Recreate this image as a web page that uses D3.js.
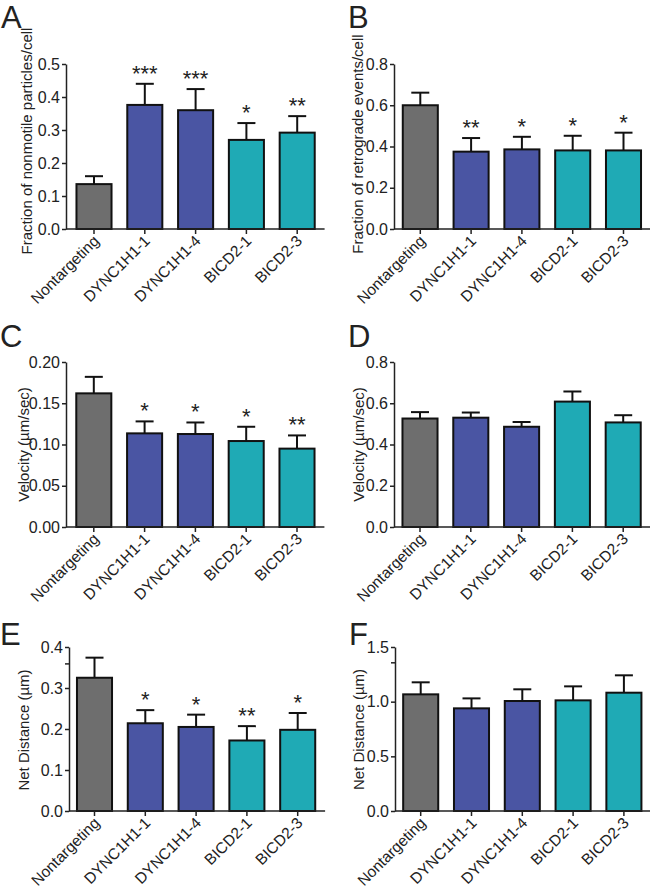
<!DOCTYPE html>
<html>
<head>
<meta charset="utf-8">
<script src="https://cdn.jsdelivr.net/npm/d3@7"></script>
<style>
  html, body { margin: 0; padding: 0; background: #fff; }
  svg { display: block; font-family: "Liberation Sans", Arial, Helvetica, sans-serif; }
</style>
</head>
<body>
<svg id="chart" width="650" height="888"></svg>
<script>
// ---------- data ----------
const categories = ["Nontargeting", "DYNC1H1-1", "DYNC1H1-4", "BICD2-1", "BICD2-3"];
const groups = ["control", "dynein", "dynein", "bicd2", "bicd2"];

const nonmotileMean = [0.136, 0.376, 0.360, 0.270, 0.292];
const nonmotileErr  = [0.024, 0.064, 0.064, 0.051, 0.050];
const nonmotileStars = ["", "***", "***", "*", "**"];
const nonmotileTicks = [0, 0.1, 0.2, 0.3, 0.4, 0.5];

const retroMean = [0.600, 0.375, 0.386, 0.381, 0.381];
const retroErr  = [0.061, 0.066, 0.061, 0.071, 0.086];
const retroStars = ["", "**", "*", "*", "*"];
const retroTicks = [0, 0.2, 0.4, 0.6, 0.8];

const velCMean = [0.162, 0.1135, 0.1127, 0.1042, 0.095];
const velCErr  = [0.020, 0.0145, 0.014, 0.0173, 0.016];
const velCStars = ["", "*", "*", "*", "**"];
const velCTicks = [0, 0.05, 0.10, 0.15, 0.20];

const velDMean = [0.526, 0.530, 0.486, 0.608, 0.507];
const velDErr  = [0.031, 0.025, 0.023, 0.049, 0.035];
const velDStars = ["", "", "", "", ""];
const velDTicks = [0, 0.2, 0.4, 0.6, 0.8];

const distEMean = [0.325, 0.214, 0.205, 0.172, 0.198];
const distEErr  = [0.049, 0.032, 0.030, 0.035, 0.041];
const distEStars = ["", "*", "*", "**", "*"];
const distETicks = [0, 0.1, 0.2, 0.3, 0.4];
const distEMinor = [0.36];

const distFMean = [1.067, 0.939, 1.006, 1.012, 1.082];
const distFErr  = [0.110, 0.091, 0.107, 0.128, 0.159];
const distFStars = ["", "", "", "", ""];
const distFTicks = [0, 0.5, 1.0, 1.5];
const distFMinor = [1.36];

// ---------- style ----------
const fillColor = { control: "#6e6e6e", dynein: "#4a55a3", bicd2: "#1faab5" };

const panels = [
  { letter: "A", title: "Fraction of nonmotile particles/cell", mean: nonmotileMean, err: nonmotileErr, stars: nonmotileStars,
    ticks: nonmotileTicks, minor: [], fmt: ".1f", ax: 66, top: 64, bottom: 229, c0: 28, lx: 1, ly: 28, tx: 27, ty: 141 },
  { letter: "B", title: "Fraction of retrograde events/cell", mean: retroMean, err: retroErr, stars: retroStars,
    ticks: retroTicks, minor: [], fmt: ".1f", ax: 394, top: 64, bottom: 229, c0: 26.3, lx: 348, ly: 28, tx: 358, ty: 144 },
  { letter: "C", title: "Velocity (\u00B5m/sec)", mean: velCMean, err: velCErr, stars: velCStars,
    ticks: velCTicks, minor: [], fmt: ".2f", ax: 66, top: 362, bottom: 527, c0: 27.8, lx: 0, ly: 347, tx: 24, ty: 444.5 },
  { letter: "D", title: "Velocity (\u00B5m/sec)", mean: velDMean, err: velDErr, stars: velDStars,
    ticks: velDTicks, minor: [], fmt: ".1f", ax: 394, top: 362, bottom: 527, c0: 26, lx: 348, ly: 347, tx: 359, ty: 444.5 },
  { letter: "E", title: "Net Distance (\u00B5m)", mean: distEMean, err: distEErr, stars: distEStars,
    ticks: distETicks, minor: distEMinor, fmt: ".1f", ax: 69, top: 647, bottom: 811, c0: 25.5, lx: 0, ly: 645, tx: 24, ty: 730 },
  { letter: "F", title: "Net Distance (\u00B5m)", mean: distFMean, err: distFErr, stars: distFStars,
    ticks: distFTicks, minor: distFMinor, fmt: ".1f", ax: 395, top: 647, bottom: 811, c0: 25.7, lx: 349, ly: 645, tx: 359, ty: 729.5 }
];

const step = 50.8;
const svg = d3.select("#chart");

panels.forEach(p => {
  const g = svg.append("g");
  const r0 = p.ax + p.c0 - step / 2;
  const x = d3.scaleBand().domain(categories).range([r0, r0 + 5 * step])
    .paddingInner(0.31).paddingOuter(0.155);
  const ymax = p.ticks[p.ticks.length - 1];
  const y = d3.scaleLinear().domain([0, ymax]).range([p.bottom, p.top]);

  const rows = categories.map((c, i) => ({ c, g: groups[i], m: p.mean[i], e: p.err[i], s: p.stars[i] }));

  // error bars (upper only)
  const eb = g.append("g").attr("stroke", "#111").attr("stroke-width", 2).attr("fill", "none");
  rows.forEach(d => {
    const cx = x(d.c) + x.bandwidth() / 2;
    eb.append("line").attr("x1", cx).attr("x2", cx).attr("y1", y(d.m)).attr("y2", y(d.m + d.e));
    eb.append("line").attr("x1", cx - 9).attr("x2", cx + 9).attr("y1", y(d.m + d.e)).attr("y2", y(d.m + d.e));
  });

  // bars
  g.append("g").selectAll("rect").data(rows).join("rect")
    .attr("x", d => x(d.c))
    .attr("y", d => y(d.m))
    .attr("width", x.bandwidth())
    .attr("height", d => y(0) - y(d.m))
    .attr("fill", d => fillColor[d.g])
    .attr("stroke", "#111")
    .attr("stroke-width", 2);

  // stars
  g.append("g").selectAll("text").data(rows.filter(d => d.s)).join("text")
    .attr("x", d => x(d.c) + x.bandwidth() / 2)
    .attr("y", d => y(d.m + d.e) - 3)
    .attr("text-anchor", "middle")
    .attr("font-size", 22)
    .attr("fill", "#222")
    .text(d => d.s);

  // y axis
  const yAxis = d3.axisLeft(y).tickValues(p.ticks).tickFormat(d3.format(p.fmt))
    .tickSize(4).tickPadding(2).tickSizeOuter(0);
  const ya = g.append("g").attr("transform", `translate(${p.ax},0)`).call(yAxis);
  ya.attr("font-size", null).attr("font-family", null);
  ya.select(".domain").attr("stroke", "#222").attr("stroke-width", 1.5);
  ya.selectAll(".tick line").attr("stroke", "#222").attr("stroke-width", 1.5);
  ya.selectAll(".tick text").style("font-size", "16px").attr("fill", "#222");
  if (p.minor.length) {
    const ma = d3.axisLeft(y).tickValues(p.minor).tickFormat("").tickSize(4).tickSizeOuter(0);
    const mg = g.append("g").attr("transform", `translate(${p.ax},0)`).call(ma);
    mg.select(".domain").remove();
    mg.selectAll(".tick line").attr("stroke", "#222").attr("stroke-width", 1.5);
  }

  // x axis
  g.append("line").attr("x1", p.ax).attr("x2", r0 + 5 * step + 2)
    .attr("y1", p.bottom).attr("y2", p.bottom).attr("stroke", "#222").attr("stroke-width", 1.5);
  const xAxis = d3.axisBottom(x).tickSize(5).tickSizeOuter(0).tickFormat("");
  const xa = g.append("g").attr("transform", `translate(0,${p.bottom})`).call(xAxis);
  xa.select(".domain").remove();
  xa.selectAll(".tick line").attr("stroke", "#222").attr("stroke-width", 1.5);

  g.append("g").selectAll("text").data(categories).join("text")
    .attr("transform", c => `translate(${x(c) + x.bandwidth() / 2 + 6},${p.bottom + 13}) rotate(-45)`)
    .attr("text-anchor", "end")
    .style("font-size", "15.5px")
    .attr("fill", "#222")
    .text(c => c);

  // y title
  g.append("text")
    .attr("transform", `translate(${p.tx + 5},${p.ty}) rotate(-90)`)
    .attr("text-anchor", "middle")
    .style("font-size", "15px")
    .attr("fill", "#222")
    .text(p.title);

  // panel letter
  g.append("text").attr("x", p.lx).attr("y", p.ly)
    .style("font-size", "31px").attr("fill", "#222").text(p.letter);
});
</script>
</body>
</html>
